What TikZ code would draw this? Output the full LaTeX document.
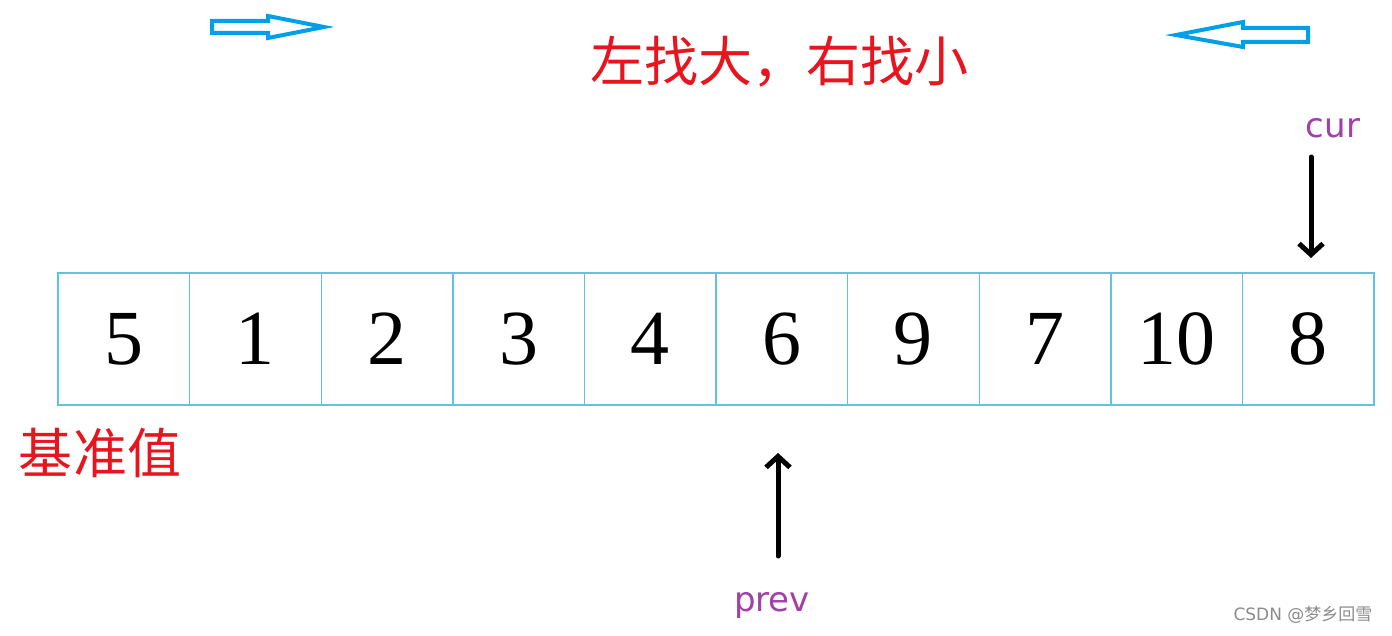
\documentclass[tikz,border=0pt]{standalone}
\usepackage{fontspec}
\newfontfamily\cjk{Noto Sans CJK SC}
\newfontfamily\dvs{DejaVu Sans}
\newfontfamily\numfont{Liberation Serif}
\usetikzlibrary{arrows.meta}
\definecolor{cellblue}{HTML}{5EC4E2}
\definecolor{arrblue}{HTML}{00A0E9}
\definecolor{ptrpurple}{HTML}{A040A8}
\definecolor{titlered}{HTML}{E8141E}
\tikzset{
  cellbox/.style={draw=cellblue, line width=1.4pt, minimum width=131.6pt, minimum height=132pt, inner sep=0pt, font=\numfont\fontsize{78}{78}\selectfont, text=black},
  ptrlabel/.style={text=ptrpurple, font=\dvs\fontsize{34}{34}\selectfont, inner sep=0pt},
  ptrarrow/.style={line width=5pt, -{Straight Barb[length=11pt,width=24pt,line width=5pt]}, line cap=round},
  hollow/.style={draw=arrblue, line width=4pt, line join=miter},
  redtext/.style={text=titlered, font=\cjk\fontsize{54}{54}\selectfont, inner sep=0pt}
}
\begin{document}
\begin{tikzpicture}[x=1pt,y=-1pt]
\useasboundingbox (0,0) rectangle (1392,636);
\fill[white] (0,0) rectangle (1392,636);
% cells
\foreach \v [count=\i] in {5,1,2,3,4,6,9,7,10,8} {
  \node[cellbox] (c\i) at ({58+131.6*(\i-0.5)},339) {\v};
}
% top hollow arrows
\draw[hollow] (212,21) -- (268,21) -- (268,16) -- (324,27) -- (268,38) -- (268,33) -- (212,33) -- cycle;
\draw[hollow] (1308,28) -- (1243,28) -- (1243,22) -- (1176,35) -- (1243,47) -- (1243,42) -- (1308,42) -- cycle;
% title
\node[redtext] (title) at (779,62) {左找大，右找小};
\node[redtext] (pivot) at (100,453) {基准值};
% pointers
\node[ptrlabel] (cur) at (1333,128) {cur};
\node[ptrlabel] (prev) at (772,606) {prev};
\coordinate (curtip) at (1311,258);
\coordinate (curtail) at (1311,157);
\draw[ptrarrow] (curtail) -- (curtip);
\coordinate (prevtip) at (778,453);
\coordinate (prevtail) at (778,556);
\draw[ptrarrow] (prevtail) -- (prevtip);
% watermark
\node[text=black!45, font=\dvs\fontsize{17}{17}\selectfont, inner sep=0pt] (wm) at (1303,615) {CSDN @\cjk 梦乡回雪};
\end{tikzpicture}
\end{document}
